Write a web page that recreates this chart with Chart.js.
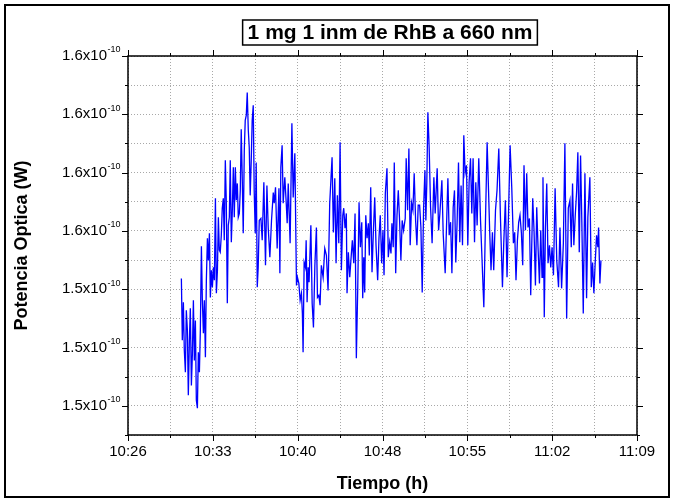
<!DOCTYPE html>
<html>
<head>
<meta charset="utf-8">
<script src="https://cdn.jsdelivr.net/npm/chart.js@4.4.1/dist/chart.umd.min.js"></script>
<style>
  html, body { margin: 0; padding: 0; background: #fff; }
  #wrap { width: 676px; height: 504px; }
</style>
</head>
<body>
<div id="wrap"><canvas id="chart" width="676" height="504"></canvas></div>
<script>
// time: minutes after 10:00
const times = [
  30.93, 31.01, 31.10, 31.18, 31.27, 31.35, 31.44, 31.52, 31.61, 31.69,
  31.78, 31.86, 31.95, 32.03, 32.12, 32.20, 32.29, 32.37, 32.46, 32.54,
  32.63, 32.71, 32.80, 32.88, 32.97, 33.05, 33.14, 33.22, 33.31, 33.39,
  33.48, 33.56, 33.65, 33.73, 33.82, 33.90, 33.99, 34.07, 34.15, 34.23,
  34.32, 34.40, 34.49, 34.57, 34.66, 34.74, 34.83, 34.91, 35.00, 35.08,
  35.17, 35.25, 35.34, 35.42, 35.51, 35.59, 35.68, 35.76, 35.85, 35.93,
  36.01, 36.10, 36.18, 36.27, 36.35, 36.44, 36.52, 36.61, 36.69, 36.77,
  36.86, 36.94, 37.03, 37.11, 37.20, 37.28, 37.37, 37.45, 37.54,
  37.68, 37.79, 37.93, 38.07, 38.19, 38.30, 38.44, 38.58, 38.73, 38.81,
  38.92, 39.06, 39.21, 39.29, 39.37, 39.48, 39.57, 39.71, 39.83, 39.91,
  40.00, 40.16, 40.31, 40.42, 40.56, 40.70, 40.78, 40.90, 41.01, 41.12,
  41.20, 41.26, 41.35, 41.46, 41.52, 41.60, 41.69, 41.77, 41.92, 42.03,
  42.14, 42.26, 42.39, 42.48, 42.60, 42.70, 42.81, 42.96, 43.10, 43.24,
  43.38, 43.52, 43.72, 43.83, 43.95, 44.06, 44.17, 44.29, 44.40, 44.51,
  44.63,
  44.71, 44.82, 44.93, 44.99, 45.10, 45.22, 45.33, 45.44, 45.56, 45.67,
  45.78, 45.90, 46.01, 46.12, 46.24, 46.32, 46.41, 46.49, 46.58, 46.69,
  46.80, 46.88, 47.00, 47.11, 47.22, 47.34, 47.45, 47.59, 47.70, 47.81,
  47.93, 48.04, 48.13, 48.24, 48.38, 48.49, 48.61, 48.72, 48.80, 48.91,
  49.00, 49.12, 49.23, 49.34, 49.45, 49.56, 49.67, 49.79, 49.93, 50.01,
  50.13, 50.24, 50.35, 50.47, 50.58, 50.69, 50.81, 50.92, 51.03, 51.15,
  51.26, 51.37, 51.49, 51.60,
  51.68, 51.76, 51.85, 51.96, 52.08, 52.21, 52.36, 52.47, 52.64, 52.76,
  52.87, 53.04, 53.15, 53.32, 53.55, 53.66, 53.78, 53.89, 54.00, 54.11,
  54.22, 54.33, 54.45, 54.56, 54.67, 54.79, 54.90, 55.01, 55.13, 55.24,
  55.35, 55.47, 55.58, 55.69, 55.81, 55.92, 56.03, 56.17, 56.32, 56.45,
  56.60, 56.74, 56.88, 57.00, 57.10, 57.21, 57.33, 57.44, 57.59, 57.72,
  57.87, 58.01, 58.18, 58.29, 58.43, 58.57,
  58.69, 58.83, 58.97, 59.11, 59.22, 59.33, 59.45, 59.56, 59.67, 59.79,
  59.90, 60.01, 60.13, 60.24, 60.35, 60.47, 60.58, 60.75, 60.86, 60.98,
  61.09, 61.20, 61.32, 61.43, 61.54, 61.62, 61.73, 61.83, 61.94, 62.05,
  62.17, 62.28, 62.39, 62.51, 62.65, 62.79, 62.94, 63.06, 63.20, 63.35,
  63.48, 63.63, 63.77, 63.91, 64.02, 64.13, 64.24, 64.36, 64.47, 64.58,
  64.70, 64.81, 64.92, 65.04, 65.18, 65.32, 65.43, 65.60, 65.72, 65.83,
  65.94, 66.06, 66.17, 66.28, 66.34, 66.45, 66.54
];

// optical power, x1e-10 W
const power = [
  1.5437, 1.5225, 1.5355, 1.5190, 1.5115, 1.5328, 1.5259, 1.5036, 1.5225, 1.5335,
  1.5070, 1.5173, 1.5362, 1.5156, 1.5293, 1.5019, 1.4992, 1.5184, 1.5115, 1.5259,
  1.5547, 1.5362, 1.5249, 1.5362, 1.5167, 1.5431, 1.5575, 1.5499, 1.5592, 1.5372,
  1.5465, 1.5407, 1.5475, 1.5431, 1.5712, 1.5386, 1.5465, 1.5647, 1.5534, 1.5527,
  1.5585, 1.5678, 1.5712, 1.5568, 1.5842, 1.5705, 1.5352, 1.5619, 1.5647, 1.5842,
  1.5561, 1.5664, 1.5818, 1.5647, 1.5818, 1.5705, 1.5763, 1.5647, 1.5660, 1.5739,
  1.5949, 1.5774, 1.5592, 1.5877, 1.5979, 1.5997, 1.6075, 1.5945, 1.5887, 1.5722,
  1.5842, 1.5979, 1.6031, 1.5739, 1.5592, 1.5835, 1.5407, 1.5475, 1.5636,
  1.5643, 1.5568, 1.5767, 1.5482, 1.5756, 1.5612, 1.5510, 1.5636, 1.5732, 1.5695,
  1.5750, 1.5540, 1.5746, 1.5455, 1.5818, 1.5894, 1.5695, 1.5784, 1.5695, 1.5626,
  1.5763, 1.5558, 1.5969, 1.5715, 1.5866, 1.5413, 1.5441, 1.5420, 1.5362, 1.5386,
  1.5317, 1.5184, 1.5492, 1.5475, 1.5568, 1.5355, 1.5475, 1.5424, 1.5619, 1.5352,
  1.5269, 1.5482, 1.5612, 1.5372, 1.5379, 1.5345, 1.5482, 1.5441, 1.5540, 1.5516,
  1.5396, 1.5695, 1.5853, 1.5595, 1.5781, 1.5489, 1.5722, 1.5558, 1.5904, 1.5465,
  1.5654,
  1.5678, 1.5609, 1.5660, 1.5386, 1.5527, 1.5441, 1.5506, 1.5568, 1.5489, 1.5660,
  1.5163, 1.5407, 1.5698, 1.5544, 1.5630, 1.5369, 1.5510, 1.5389, 1.5654, 1.5575,
  1.5626, 1.5516, 1.5750, 1.5458, 1.5592, 1.5715, 1.5551, 1.5431, 1.5575, 1.5654,
  1.5489, 1.5602, 1.5448, 1.5729, 1.5815, 1.5510, 1.5561, 1.5523, 1.5626, 1.5544,
  1.5835, 1.5455, 1.5654, 1.5739, 1.5636, 1.5499, 1.5636, 1.5602, 1.5643, 1.5849,
  1.5671, 1.5883, 1.5551, 1.5695, 1.5671, 1.5798, 1.5636, 1.5551, 1.5688, 1.5688,
  1.5612, 1.5389, 1.5681, 1.5808,
  1.5636, 1.5763, 1.6007, 1.5887, 1.5681, 1.5558, 1.5784, 1.5660, 1.5815, 1.5602,
  1.5660, 1.5774, 1.5592, 1.5455, 1.5781, 1.5585, 1.5630, 1.5455, 1.5681, 1.5739,
  1.5492, 1.5626, 1.5835, 1.5561, 1.5756, 1.5551, 1.5928, 1.5798, 1.5825, 1.5551,
  1.5767, 1.5849, 1.5660, 1.5849, 1.5561, 1.5767, 1.5619, 1.5849, 1.5636, 1.5499,
  1.5338, 1.5636, 1.5904, 1.5739, 1.5595, 1.5465, 1.5595, 1.5465, 1.5671, 1.5739,
  1.5883, 1.5647, 1.5407, 1.5558, 1.5705, 1.5441,
  1.5647, 1.5894, 1.5750, 1.5558, 1.5595, 1.5431, 1.5568, 1.5630, 1.5654, 1.5592,
  1.5482, 1.5825, 1.5602, 1.5798, 1.5612, 1.5643, 1.5379, 1.5712, 1.5602, 1.5413,
  1.5681, 1.5544, 1.5420, 1.5602, 1.5441, 1.5784, 1.5304, 1.5612, 1.5763, 1.5489,
  1.5551, 1.5475, 1.5544, 1.5448, 1.5746, 1.5499, 1.5407, 1.5612, 1.5403, 1.5558,
  1.5901, 1.5300, 1.5678, 1.5705, 1.5544, 1.5763, 1.5551, 1.5654, 1.5732, 1.5870,
  1.5527, 1.5859, 1.5626, 1.5317, 1.5798, 1.5369, 1.5647, 1.5784, 1.5407, 1.5492,
  1.5386, 1.5499, 1.5585, 1.5544, 1.5612, 1.5420, 1.5499
];

const xTickLabels = ["10:26", "10:33", "10:40", "10:48", "10:55", "11:02", "11:09"];
const yTickLabels = ["1.5", "1.5", "1.5", "1.6", "1.6", "1.6", "1.6"];
const yExponent = "-10";
const titleText = "1 mg 1 inm de RhB a 660 nm";

const FONT = "'Liberation Sans', Arial, sans-serif";
Chart.defaults.font.family = FONT;
Chart.defaults.color = "#000";

const framePlugin = {
  id: "frame",
  beforeDraw(chart) {
    const ctx = chart.ctx;
    ctx.save();
    ctx.fillStyle = "#fff";
    ctx.fillRect(0, 0, chart.width, chart.height);
    ctx.restore();
  },
  afterDraw(chart) {
    const ctx = chart.ctx;
    const { left, right, top, bottom } = chart.chartArea;
    const xs = chart.scales.x;
    const ys = chart.scales.y;
    ctx.save();
    ctx.strokeStyle = "#000";
    ctx.lineWidth = 1.5;
    ctx.strokeRect(left, top, right - left, bottom - top);

    ctx.lineWidth = 1;
    ctx.beginPath();
    xs.ticks.forEach((t, i) => {
      const px = Math.round(xs.getPixelForValue(t.value)) + 0.5;
      const len = i % 2 === 0 ? 6 : 3;
      ctx.moveTo(px, bottom);
      ctx.lineTo(px, bottom + len);
      ctx.moveTo(px, top);
      ctx.lineTo(px, top - len);
    });
    ys.ticks.forEach((t, i) => {
      const py = Math.round(ys.getPixelForValue(t.value)) + 0.5;
      const len = i % 2 === 1 ? 6 : 3;
      ctx.moveTo(left, py);
      ctx.lineTo(left - len, py);
      ctx.moveTo(right, py);
      ctx.lineTo(right + len, py);
    });
    ctx.stroke();

    // exponent after each y label
    ctx.fillStyle = "#000";
    ctx.font = "9px " + FONT;
    ctx.textAlign = "left";
    ctx.textBaseline = "middle";
    ys.ticks.forEach((t, i) => {
      if (i % 2 !== 1) return;
      const py = ys.getPixelForValue(t.value);
      ctx.fillText(yExponent, 107.5, py - 6);
    });

    // title with box
    ctx.font = "bold 21px " + FONT;
    ctx.textAlign = "center";
    const cx = 390, cy = 33;
    const w = ctx.measureText(titleText).width;
    ctx.fillText(titleText, cx, cy);
    ctx.lineWidth = 1.5;
    ctx.strokeRect(cx - w / 2 - 5, 20, w + 10, 25);

    // outer border
    ctx.lineWidth = 2;
    ctx.strokeRect(5, 5, 664, 492);
    ctx.restore();
  }
};

const ctx = document.getElementById("chart").getContext("2d");
new Chart(ctx, {
  type: "line",
  data: {
    datasets: [{
      data: times.map((t, i) => ({ x: t, y: power[i] })),
      borderColor: "#0000ff",
      borderWidth: 1.3,
      pointRadius: 0,
      fill: false,
      tension: 0
    }]
  },
  options: {
    responsive: false,
    animation: false,
    devicePixelRatio: 1,
    layout: { padding: { top: 56, right: 39, bottom: 0, left: 0 } },
    plugins: {
      legend: { display: false },
      tooltip: { enabled: false },
      title: { display: false }
    },
    scales: {
      x: {
        type: "linear",
        min: 26.4,
        max: 69.6,
        afterFit: (s) => { s.height = 69; },
        ticks: {
          stepSize: 3.6,
          autoSkip: false,
          maxRotation: 0,
          padding: 8,
          font: { size: 15 },
          callback: (v, i) => (i % 2 === 0 ? xTickLabels[i / 2] : "")
        },
        grid: { color: "#a8a8a8", lineWidth: 1, drawTicks: false },
        border: { display: false, dash: [1, 2] },
        title: {
          display: true,
          text: "Tiempo (h)",
          font: { size: 18, weight: "bold" },
          padding: { top: 0, bottom: 9 }
        }
      },
      y: {
        type: "linear",
        min: 1.49,
        max: 1.62,
        afterFit: (s) => { s.width = 128; },
        ticks: {
          stepSize: 0.01,
          autoSkip: false,
          padding: 21,
          font: { size: 15 },
          callback: (v, i) => (i % 2 === 1 ? yTickLabels[(i - 1) / 2] + "x10" : "")
        },
        grid: { color: "#a8a8a8", lineWidth: 1, drawTicks: false },
        border: { display: false, dash: [1, 2] },
        title: {
          display: true,
          text: "Potencia Optica (W)",
          font: { size: 18, weight: "bold" },
          padding: { top: 11, bottom: 0 }
        }
      }
    }
  },
  plugins: [framePlugin]
});
</script>
</body>
</html>
